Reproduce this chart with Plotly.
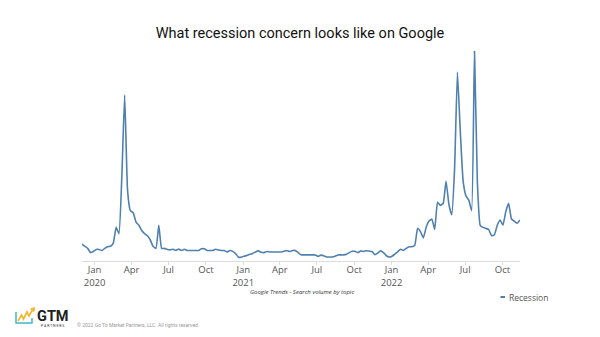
import pandas as pd
import plotly.graph_objects as go

# Weekly Google Trends search interest for topic "Recession" (0-100)
start_date = "2019-12-01"
recession = [
    8, 7, 6, 4, 4.5, 5.5, 5.5, 5, 6, 6.8,
    7, 8.5, 16, 13, 40, 79, 34, 24, 23, 18.5,
    17, 14.5, 13, 12, 10, 7, 6, 17, 6, 6,
    5.5, 5.3, 5.6, 5, 5.7, 5, 5.6, 5, 5, 5,
    5, 5, 5.8, 5.8, 5, 5, 5, 5.6, 5.2, 5,
    5, 4.3, 5, 4.6, 3.5, 1.8, 1.8, 2.3, 2.6, 3.2,
    3.6, 4.3, 4.8, 4.2, 4.0, 4.5, 4.3, 4.3, 4.3, 4.3,
    4.3, 4.6, 5, 4.5, 5, 5, 4, 3, 2.9, 2.9,
    2.9, 2.9, 2.9, 2.2, 2.8, 2.5, 1.9, 1.9, 1.9, 2.3,
    2.9, 2.9, 2.9, 3.2, 4, 4.6, 4.6, 4, 4.8, 4.5,
    4.9, 4.7, 4.5, 3, 3.8, 4.8, 4, 2.5, 1.9, 2.3,
    3.3, 4.4, 5.6, 5, 6, 6.8, 6.8, 7.5, 15.6, 14,
    11, 16, 19, 20, 15, 28, 26.5, 27.5, 38, 27,
    22, 44, 90, 62, 38, 31, 29, 24, 100, 38,
    17, 16, 15.5, 15, 12, 12.5, 17, 19.5, 17, 23.5,
    27.5, 20, 19, 18, 19.5,
]
dates = pd.date_range(start_date, periods=len(recession), freq="7D")

tick_vals = ["2020-01-01", "2020-04-01", "2020-07-01", "2020-10-01",
             "2021-01-01", "2021-04-01", "2021-07-01", "2021-10-01",
             "2022-01-01", "2022-04-01", "2022-07-01", "2022-10-01"]
tick_text = ["Jan<br>2020", "Apr", "Jul", "Oct",
             "Jan<br>2021", "Apr", "Jul", "Oct",
             "Jan<br>2022", "Apr", "Jul", "Oct"]

W, H = 600, 337
L, R, T, B = 82, 80, 51, 76
PW, PH = W - L - R, H - T - B


def px(x):
    return (x - L) / PW


def py(y):
    return (H - B - y) / PH


LINE = "#4f81b0"

fig = go.Figure()
fig.add_trace(go.Scatter(
    x=dates, y=recession, mode="lines", name="Recession",
    line=dict(color=LINE, width=1.6, shape="spline", smoothing=0.4),
    showlegend=False,
))

shapes = [
    # legend marker
    dict(type="line", xref="paper", yref="paper",
         x0=px(500.5), x1=px(505), y0=py(297), y1=py(297),
         line=dict(color=LINE, width=2)),
    # logo: teal bracket
    dict(type="path", xref="paper", yref="paper",
         path=f"M {px(16)},{py(312)} L {px(16)},{py(323)} L {px(32)},{py(323)} L {px(32)},{py(318)}",
         line=dict(color="#3fb8c4", width=1.5)),
    # logo: yellow rising zigzag
    dict(type="path", xref="paper", yref="paper",
         path=(f"M {px(18)},{py(321)} L {px(21.5)},{py(315)} L {px(23.5)},{py(319)} "
               f"L {px(27)},{py(312)} L {px(29)},{py(316)} L {px(33)},{py(309)}"),
         line=dict(color="#f2b632", width=1.7)),
    dict(type="path", xref="paper", yref="paper",
         path=f"M {px(30.5)},{py(309)} L {px(34.5)},{py(307.5)} L {px(34)},{py(311.5)} Z",
         fillcolor="#f2b632", line=dict(color="#f2b632", width=1)),
]

annotations = [
    dict(text="<i>Google Trends - Search volume by topic</i>", xref="paper", yref="paper",
         x=px(302), y=py(291.5), xanchor="center", yanchor="middle", showarrow=False,
         font=dict(family="Open Sans", size=6, color="#333"),
         ),
    dict(text="Recession", xref="paper", yref="paper",
         x=px(507), y=py(297), xanchor="left", yanchor="middle", showarrow=False,
         font=dict(family="Open Sans", size=8.5, color="#555")),
    dict(text="<b>GTM</b>", xref="paper", yref="paper",
         x=px(34.5), y=py(316.5), xanchor="left", yanchor="middle", showarrow=False,
         font=dict(family="Roboto", size=14.5, color="#222")),
    dict(text="P A R T N E R S", xref="paper", yref="paper",
         x=px(52), y=py(325.5), xanchor="center", yanchor="middle", showarrow=False,
         font=dict(family="Roboto", size=3.5, color="#222")),
    dict(text="© 2022 Go To Market Partners, LLC. All rights reserved.", xref="paper", yref="paper",
         x=px(75), y=py(325), xanchor="left", yanchor="middle", showarrow=False,
         font=dict(family="Roboto", size=5, color="#999")),
]

fig.update_layout(
    width=W, height=H,
    margin=dict(l=L, r=R, t=T, b=B, pad=0),
    paper_bgcolor="white", plot_bgcolor="white",
    title=dict(text="What recession concern looks like on Google",
               x=0.5, xanchor="center", y=1 - 33 / H, yanchor="middle",
               font=dict(family="Roboto", size=14.5, color="#111")),
    xaxis=dict(
        type="date", range=[dates[0], dates[-1]],
        tickvals=tick_vals, ticktext=tick_text,
        showgrid=False, zeroline=False,
        showline=True, linecolor="#dcdcdc", linewidth=1,
        ticks="outside", ticklen=3, tickcolor="#dcdcdc",
        ticklabelstandoff=-3,
        tickfont=dict(family="Open Sans", size=9.5, color="#555"),
    ),
    yaxis=dict(range=[0, 100], visible=False, fixedrange=True),
    shapes=shapes, annotations=annotations,
)

fig.write_html("out.html")
